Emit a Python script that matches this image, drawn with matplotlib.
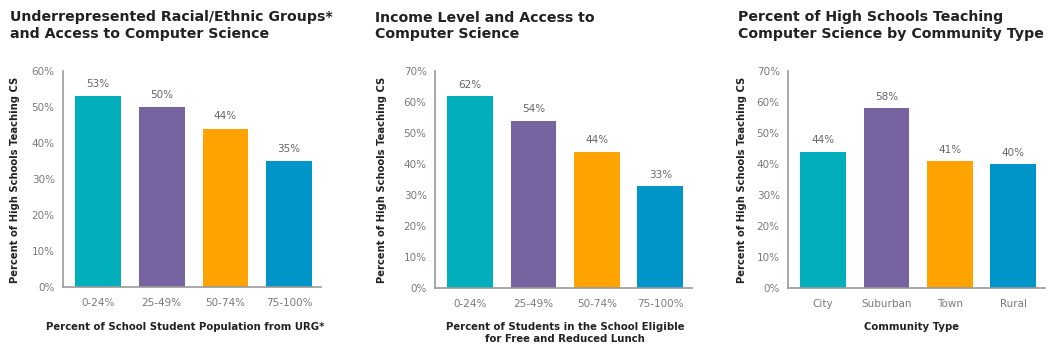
import matplotlib
matplotlib.use("Agg")
import matplotlib.pyplot as plt
from matplotlib.ticker import PercentFormatter

urg_categories = ["0-24%", "25-49%", "50-74%", "75-100%"]
urg_values = [53, 50, 44, 35]

income_categories = ["0-24%", "25-49%", "50-74%", "75-100%"]
income_values = [62, 54, 44, 33]

community_categories = ["City", "Suburban", "Town", "Rural"]
community_values = [44, 58, 41, 40]

titles = ["Underrepresented Racial/Ethnic Groups*\nand Access to Computer Science",
          "Income Level and Access to\nComputer Science",
          "Percent of High Schools Teaching\nComputer Science by Community Type"]
xlabels = ["Percent of School Student Population from URG*",
           "Percent of Students in the School Eligible\nfor Free and Reduced Lunch",
           "Community Type"]
ylabel = "Percent of High Schools Teaching CS"

colors = ["#00AFBB", "#7663A0", "#FFA300", "#0095C8"]
plt.rcParams['font.family'] = ['DejaVu Sans']

W, H = 1055, 354
fig = plt.figure(figsize=(W/100, H/100), dpi=100)

panels = [
    (urg_categories, urg_values, 60, (63, 321, 287, 71), 10, 15, 185),
    (income_categories, income_values, 70, (435, 692, 288, 71), 375, 382, 565),
    (community_categories, community_values, 70, (788, 1045, 288, 71), 738, 742, 912),
]

for i, (cats, vals, ymax, (l, r, b, t), tx, ylx, xlx) in enumerate(panels):
    ax = fig.add_axes([l/W, 1-b/H, (r-l)/W, (b-t)/H])
    x = range(len(cats))
    ax.bar(x, vals, width=0.72, color=colors, zorder=2)
    for xi, v in zip(x, vals):
        ax.text(xi, v + 2.0, f"{v}%", ha="center", va="bottom", fontsize=7.5, color="#666666")
    ax.set_xlim(-0.55, 3.5)
    ax.set_ylim(0, ymax)
    ax.set_yticks(range(0, ymax + 1, 10))
    ax.yaxis.set_major_formatter(PercentFormatter(decimals=0))
    ax.set_xticks(list(x))
    ax.set_xticklabels(cats)
    for s in ["top", "right"]:
        ax.spines[s].set_visible(False)
    for s in ["left", "bottom"]:
        ax.spines[s].set_color("#999999")
        ax.spines[s].set_linewidth(1.2)
    ax.tick_params(axis="both", length=0, labelsize=7.5, labelcolor="#7a7a7a")
    ax.tick_params(axis="y", pad=6)
    ax.tick_params(axis="x", pad=8)
    fig.text(tx/W, 1-10.5/H, titles[i], ha="left", va="top", fontsize=10.2,
             fontweight="bold", color="#222222", linespacing=1.25)
    fig.text(ylx/W, 1-180/H, ylabel, rotation=90, ha="center", va="center",
             fontsize=7.2, fontweight="bold", color="#222222")
    fig.text(xlx/W, 1-322/H, xlabels[i], ha="center", va="top", fontsize=7.3,
             fontweight="bold", color="#222222", linespacing=1.25)

fig.savefig("out.png", dpi=100, facecolor="white")
